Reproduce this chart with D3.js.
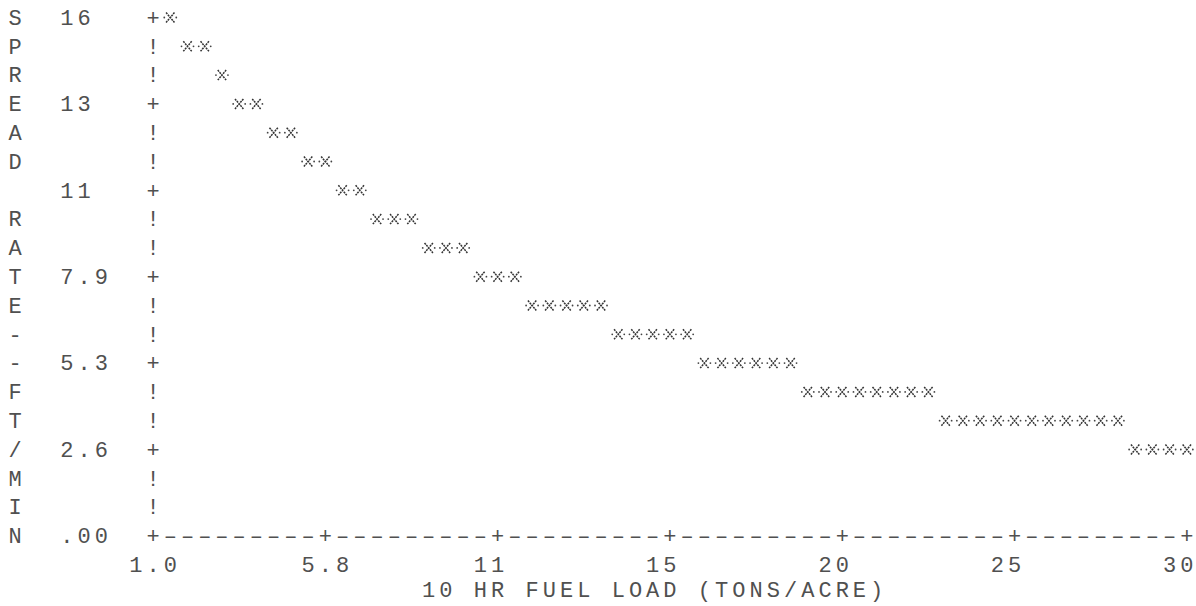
<!DOCTYPE html>
<html><head><meta charset="utf-8">
<script src="https://cdn.jsdelivr.net/npm/d3@7"></script>
<style>body{margin:0;background:#fff}svg{display:block}</style>
</head><body>
<svg id="chart" width="1196" height="606"></svg>
<script>
// ---- data ----
const fuelLoad = [1.00,1.48,1.97,2.45,2.93,3.42,3.90,4.38,4.87,5.35,
  5.83,6.32,6.80,7.28,7.77,8.25,8.73,9.22,9.70,10.18,
  10.67,11.15,11.63,12.12,12.60,13.08,13.57,14.05,14.53,15.02,
  15.50,15.98,16.47,16.95,17.43,17.92,18.40,18.88,19.37,19.85,
  20.33,20.82,21.30,21.78,22.27,22.75,23.23,23.72,24.20,24.68,
  25.17,25.65,26.13,26.62,27.10,27.58,28.07,28.55,29.03,29.52,30.00];
const spreadRate = [15.8,15.5,15.1,14.6,14.0,13.4,12.9,12.5,12.0,11.6,
  11.1,10.8,10.3,10.0,9.7,9.4,9.1,8.8,8.5,8.2,
  7.9,7.6,7.35,7.15,6.95,6.8,6.65,6.5,6.3,6.1,
  5.95,5.8,5.65,5.5,5.35,5.2,5.05,4.9,4.75,4.6,
  4.5,4.38,4.26,4.15,4.05,3.97,3.88,3.8,3.7,3.6,
  3.52,3.44,3.36,3.28,3.2,3.13,3.08,3.0,2.92,2.85,2.78];
const xTickValues = [1.0,5.83,10.67,15.5,20.33,25.17,30.0];
const xTickLabels = ["1.0","5.8","11","15","20","25","30"];
const yTickValues = [15.8,13.17,10.53,7.9,5.27,2.63,0];
const yTickLabels = ["16","13","11","7.9","5.3","2.6",".00"];
const yAxisTitle = ["S","P","R","E","A","D"," ","R","A","T","E","-","-","F","T","/","M","I","N"];
const xAxisTitle = "10 HR FUEL LOAD (TONS/ACRE)";

// ---- character grid of the line printer ----
const COL0 = 15.2, COLW = 17.23, ROW0 = 17.5, ROWH = 28.8;
const colX = c => COL0 + COLW * c;
const rowY = r => ROW0 + ROWH * r;
const AXIS_COL = 8, LAST_COL = 68, AXIS_ROW = 18;

const x = d3.scaleLinear().domain([1, 30]).range([colX(AXIS_COL), colX(LAST_COL)]);
const y = d3.scaleLinear().domain([0, 15.8]).range([rowY(AXIS_ROW), rowY(0)]);
const toCol = px => Math.round((px - COL0) / COLW);
const toRow = px => Math.round((px - ROW0) / ROWH);

const svg = d3.select("#chart");
const FS = 22, INK = "#505050";
const g = svg.append("g")
  .attr("font-family", "'Liberation Mono','DejaVu Sans Mono',monospace")
  .attr("font-size", FS).attr("fill", INK);

function put(str, col, row, dy = 0) {
  [...str].forEach((ch, i) => {
    if (ch === " ") return;
    g.append("text").attr("x", colX(col + i)).attr("y", rowY(row) + 7.2 + dy)
      .attr("text-anchor", "middle").text(ch);
  });
}

// y axis title, one letter per row
yAxisTitle.forEach((ch, r) => put(ch, 0, r));

// y axis: '+' at tick rows, '!' between
const yTickRows = yTickValues.map(v => toRow(y(v)));
for (let r = 0; r < AXIS_ROW; r++) put(yTickRows.includes(r) ? "+" : "!", AXIS_COL, r);
yTickValues.forEach((v, i) => put(yTickLabels[i], 3, toRow(y(v))));

// x axis: '+' at tick columns, dashes between
const xTickCols = xTickValues.map(v => toCol(x(v)));
for (let c = AXIS_COL; c <= LAST_COL; c++) put(xTickCols.includes(c) ? "+" : "\u2013", c, AXIS_ROW);
xTickValues.forEach((v, i) => put(xTickLabels[i], toCol(x(v)) - 1, AXIS_ROW + 1));
put(xAxisTitle, 24, AXIS_ROW + 2, -4);

// data points, snapped to the printer grid (axis character wins on the axis column)
const pts = fuelLoad.map((f, i) => ({col: toCol(x(f)), row: toRow(y(spreadRate[i]))}))
  .filter(p => p.col !== AXIS_COL);
const star = svg.append("g").selectAll("g").data(pts).join("g")
  .attr("transform", p => `translate(${colX(p.col)},${rowY(p.row)})`);
star.append("path").attr("d", "M-4.2,-5L4.2,5M4.2,-5L-4.2,5")
  .attr("stroke", "#333").attr("stroke-width", 1.5).attr("fill", "none")
  .attr("stroke-dasharray", "2,0.8");
star.append("circle").attr("cx", -6).attr("cy", 0).attr("r", 0.9).attr("fill", "#444");
star.append("circle").attr("cx", 6).attr("cy", 0).attr("r", 0.9).attr("fill", "#444");
</script>
</body></html>
